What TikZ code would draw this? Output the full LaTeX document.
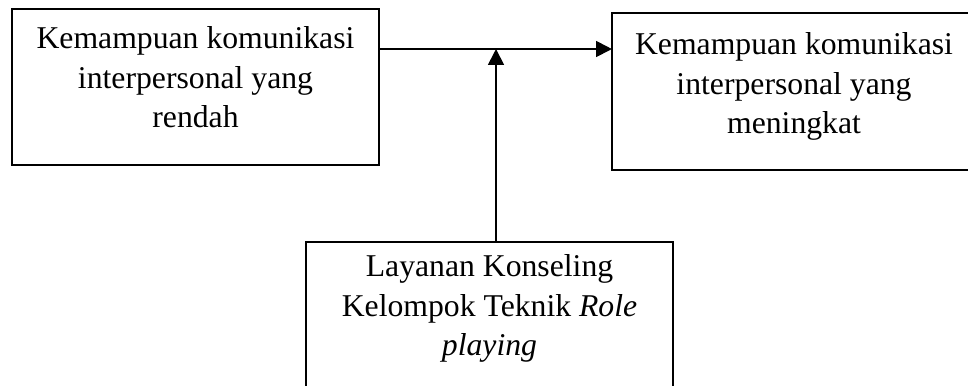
\documentclass[tikz,border=0pt]{standalone}
\usepackage{fontspec}
\setmainfont{Liberation Serif}
\usetikzlibrary{positioning, calc, arrows.meta}

\tikzset{
	box/.style={draw, line width=0.7pt, inner sep=0pt, outer sep=0pt},
	boxtext/.style={anchor=north, align=center, inner sep=0pt, font=\fontsize{12}{15}\selectfont},
	flow/.style={line width=0.7pt, -{Triangle[length=6pt, width=6pt]}}
}

\begin{document}
\begin{tikzpicture}[x=0.3785pt, y=-0.3785pt]
			\useasboundingbox (0,0) rectangle (968,385);
			
			\node[box, minimum width=138.9pt, minimum height=59pt] (low) at (195.5,87) {};
			\node[box, minimum width=137.8pt, minimum height=59.4pt] (high) at (794,91.5) {};
			\node[box, minimum width=138.9pt, minimum height=59.8pt] (role) at (489.5,321) {};
			
			\node[boxtext] (lowtext) at ([yshift=-6.4pt]low.north) {Kemampuan komunikasi\\interpersonal yang\\rendah};
			\node[boxtext] (hightext) at ([yshift=-7.2pt]high.north) {Kemampuan komunikasi\\interpersonal yang\\meningkat};
			\node[boxtext] (roletext) at ([yshift=-4.5pt]role.north) {Layanan Konseling\\Kelompok Teknik \textit{Role}\\\textit{playing}};
			
			\coordinate (j) at (496,49);
			\draw[flow] (low.east |- j) -- (high.west |- j);
			\draw[flow] (role.north -| j) -- (j);
		\end{tikzpicture}
\end{document}
